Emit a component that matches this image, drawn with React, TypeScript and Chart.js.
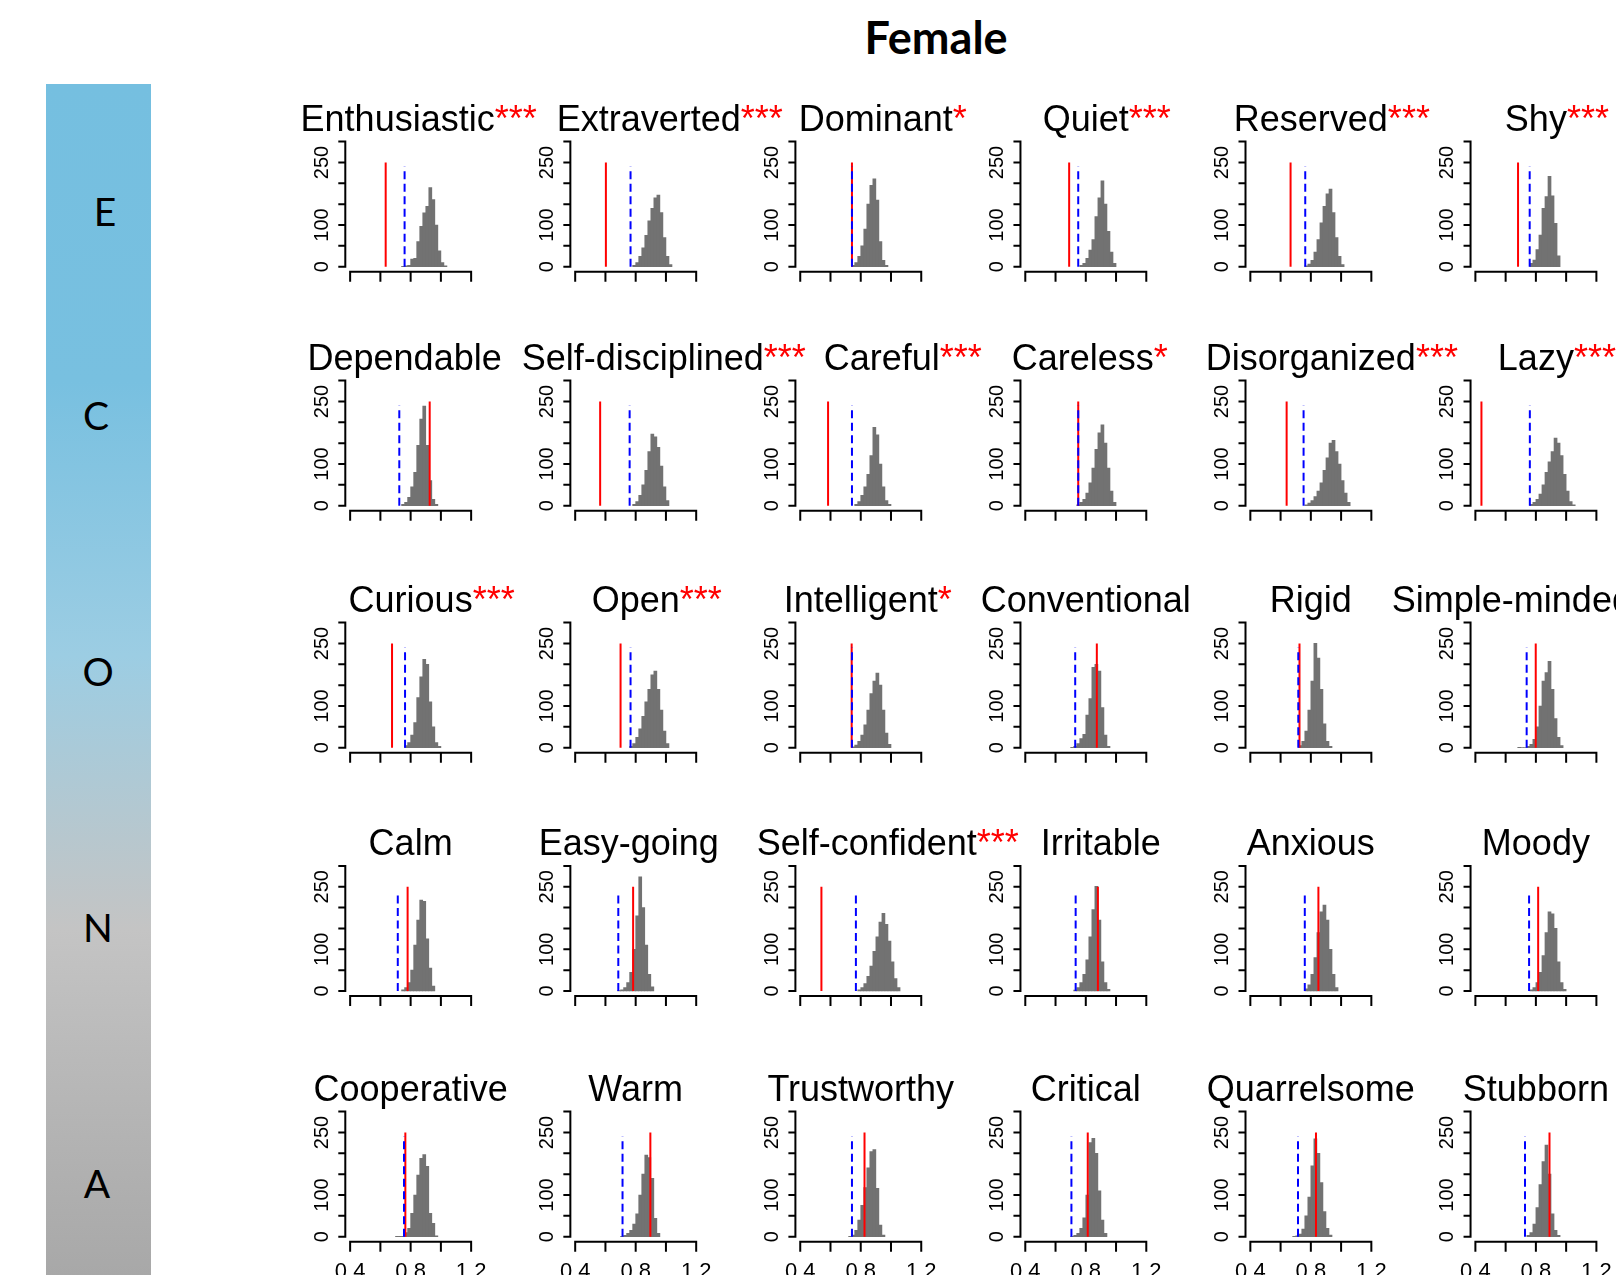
import React, { useEffect, useRef } from "react";
import { Chart, registerables } from "chart.js";
Chart.register(...registerables);

// ---------------- data ----------------
const factorLetters = ["E", "C", "O", "N", "A"];

const traitNames = [
  "Enthusiastic", "Extraverted", "Dominant", "Quiet", "Reserved", "Shy",
  "Dependable", "Self-disciplined", "Careful", "Careless", "Disorganized", "Lazy",
  "Curious", "Open", "Intelligent", "Conventional", "Rigid", "Simple-minded",
  "Calm", "Easy-going", "Self-confident", "Irritable", "Anxious", "Moody",
  "Cooperative", "Warm", "Trustworthy", "Critical", "Quarrelsome", "Stubborn",
];

const significance = [
  "***", "***", "*", "***", "***", "***",
  "", "***", "***", "*", "***", "***",
  "***", "***", "*", "", "", "",
  "", "", "***", "", "", "",
  "", "", "", "", "", "",
];

// observed value (red solid line)
const observedValue = [
  0.635, 0.603, 0.742, 0.69, 0.666, 0.682,
  0.926, 0.565, 0.584, 0.75, 0.64, 0.44,
  0.677, 0.70, 0.74, 0.873, 0.725, 0.799,
  0.78, 0.783, 0.54, 0.88, 0.85, 0.815,
  0.765, 0.897, 0.825, 0.813, 0.834, 0.89,
];

// reference value (blue dashed line)
const referenceValue = [
  0.76, 0.766, 0.742, 0.75, 0.763, 0.759,
  0.725, 0.76, 0.742, 0.75, 0.752, 0.76,
  0.763, 0.766, 0.742, 0.73, 0.717, 0.739,
  0.715, 0.685, 0.768, 0.733, 0.76, 0.755,
  0.756, 0.713, 0.742, 0.705, 0.715, 0.728,
];

const binWidth = 0.02;

// left edge of first histogram bin
const histStart = [
  0.74, 0.78, 0.74, 0.76, 0.76, 0.76,
  0.74, 0.78, 0.76, 0.74, 0.76, 0.76,
  0.76, 0.76, 0.74, 0.70, 0.72, 0.68,
  0.74, 0.68, 0.78, 0.72, 0.76, 0.76,
  0.70, 0.70, 0.72, 0.70, 0.68, 0.74,
];

// histogram counts per bin
const histCounts = [
  [1, 2, 3, 18, 20, 60, 97, 129, 145, 190, 161, 100, 38, 10, 2],
  [3, 10, 25, 45, 75, 110, 140, 165, 172, 130, 70, 25, 5],
  [3, 10, 25, 50, 90, 150, 195, 211, 160, 60, 15, 3],
  [3, 8, 20, 40, 65, 120, 165, 206, 150, 85, 35, 8],
  [2, 6, 15, 35, 65, 105, 145, 175, 186, 130, 70, 25, 5],
  [8, 16, 41, 76, 140, 168, 217, 170, 104, 26],

  [3, 8, 20, 45, 80, 145, 208, 239, 145, 60, 15, 3],
  [3, 10, 25, 50, 85, 130, 172, 165, 140, 95, 45, 12],
  [3, 10, 25, 45, 75, 120, 188, 170, 100, 45, 12, 3],
  [2, 8, 15, 30, 55, 90, 135, 175, 194, 150, 90, 35, 8],
  [2, 6, 12, 22, 35, 55, 85, 115, 150, 157, 130, 100, 60, 30, 8],
  [3, 8, 15, 28, 50, 80, 105, 130, 162, 150, 120, 75, 35, 10, 2],

  [5, 12, 30, 60, 120, 170, 212, 200, 110, 50, 12, 3],
  [3, 10, 25, 45, 75, 110, 140, 175, 184, 140, 90, 40, 10],
  [2, 6, 15, 30, 55, 90, 130, 160, 179, 150, 90, 35, 8],
  [1, 3, 10, 22, 32, 78, 118, 193, 200, 184, 96, 30, 3],
  [5, 15, 40, 90, 160, 250, 215, 140, 57, 15, 3],
  [1, 0, 0, 3, 8, 20, 50, 100, 160, 180, 207, 140, 70, 25, 5],

  [3, 8, 20, 50, 110, 170, 218, 215, 125, 55, 12],
  [1, 3, 8, 20, 45, 100, 180, 274, 200, 110, 40, 10],
  [3, 8, 18, 35, 60, 95, 130, 165, 186, 160, 120, 70, 30, 8],
  [2, 8, 20, 40, 75, 130, 195, 251, 170, 70, 20, 4],
  [5, 15, 40, 80, 140, 190, 206, 170, 100, 40, 8],
  [3, 8, 20, 45, 85, 140, 190, 185, 150, 70, 20, 4],

  [1, 1, 1, 10, 20, 56, 100, 148, 188, 197, 169, 56, 32, 2],
  [1, 3, 8, 15, 30, 55, 100, 150, 196, 190, 140, 44, 8],
  [1, 4, 15, 40, 75, 118, 165, 204, 209, 116, 28, 4],
  [1, 3, 8, 20, 45, 100, 226, 236, 200, 110, 40, 8],
  [1, 2, 6, 18, 50, 95, 170, 235, 200, 130, 60, 20, 4],
  [3, 10, 30, 70, 125, 180, 220, 150, 55, 15, 3],
];

const xTickValues = [0.4, 0.6, 0.8, 1.0, 1.2];
const xTickLabels = ["0.4", "0.8", "1.2"];
const yTickValues = [0, 50, 100, 150, 200, 250, 300];
const yTickLabels = [0, 100, 250];
const observedLineTop = 250;
const referenceLineTop = 240;

// ---------------- layout (not data) ----------------
const colPlotLeft = [345.3, 570.35, 795.4, 1020.45, 1245.5, 1470.55];
const rowZeroY = [266.7, 505.7, 747.7, 991, 1236.7];
const X_MIN = 0.368, X_MAX = 1.232, Y_MIN = -12, Y_MAX = 312;
const PX_PER_X = 151.25;
const PX_PER_Y = 0.417;
const PLOT_W = (X_MAX - X_MIN) * PX_PER_X;
const PLOT_H = (Y_MAX - Y_MIN) * PX_PER_Y;
const CANVAS_W = 215;
const CANVAS_H = 200;
const titleNudge = [
  -13, 13, 15, 0, 0, 0,
  -6, 7, 21, -3, 0, 0,
  0, 0, 0, 0, 0, -24,
  0, -7, 6, 15, 0, 0,
  0, 0, 0, 0, 0, 0,
];

const FONT = '"Liberation Sans", Arial, Helvetica, sans-serif';

function makeAxisPlugin(showXLabels: boolean) {
  return {
    id: "rStyleAxes",
    afterDraw(chart: any) {
      const { ctx, chartArea } = chart;
      const xs = chart.scales.x;
      const ys = chart.scales.y;
      ctx.save();
      ctx.strokeStyle = "#000";
      ctx.lineWidth = 2;
      ctx.lineCap = "butt";
      // y axis
      const ax = chartArea.left;
      ctx.beginPath();
      ctx.moveTo(ax, ys.getPixelForValue(yTickValues[0]) + 1);
      ctx.lineTo(ax, ys.getPixelForValue(yTickValues[yTickValues.length - 1]) - 1);
      for (const v of yTickValues) {
        const py = ys.getPixelForValue(v);
        ctx.moveTo(ax, py);
        ctx.lineTo(ax - 7, py);
      }
      ctx.stroke();
      ctx.fillStyle = "#000";
      ctx.font = `20px ${FONT}`;
      ctx.textAlign = "center";
      ctx.textBaseline = "middle";
      for (const v of yTickLabels) {
        ctx.save();
        ctx.translate(ax - 24, ys.getPixelForValue(v));
        ctx.rotate(-Math.PI / 2);
        ctx.fillText(String(v), 0, 1);
        ctx.restore();
      }
      // x axis
      const ay = chartArea.bottom;
      ctx.beginPath();
      ctx.moveTo(xs.getPixelForValue(xTickValues[0]) - 1, ay);
      ctx.lineTo(xs.getPixelForValue(xTickValues[xTickValues.length - 1]) + 1, ay);
      for (const v of xTickValues) {
        const px = xs.getPixelForValue(v);
        ctx.moveTo(px, ay);
        ctx.lineTo(px, ay + 10);
      }
      ctx.stroke();
      if (showXLabels) {
        ctx.font = `22px ${FONT}`;
        ctx.textBaseline = "top";
        for (const t of xTickLabels) {
          ctx.fillText(t, xs.getPixelForValue(parseFloat(t)), ay + 19);
        }
      }
      ctx.restore();
    },
  };
}

function Panel({ idx }: { idx: number }) {
  const ref = useRef<HTMLCanvasElement>(null);
  const r = Math.floor(idx / 6);
  const c = idx % 6;
  const plotLeft = colPlotLeft[c];
  const plotTop = rowZeroY[r] - Y_MAX * PX_PER_Y;
  const canvasLeft = Math.round(plotLeft - 60);
  const canvasTop = Math.round(plotTop - 10);
  const padLeft = plotLeft - canvasLeft;
  const padTop = plotTop - canvasTop;

  useEffect(() => {
    const bins = histCounts[idx].map((n, i) => ({
      x: histStart[idx] + binWidth * (i + 0.5),
      y: n,
    }));
    const chart = new Chart(ref.current as HTMLCanvasElement, {
      type: "bar",
      data: {
        datasets: [
          {
            type: "line",
            data: [
              { x: referenceValue[idx], y: 0 },
              { x: referenceValue[idx], y: referenceLineTop },
            ],
            borderColor: "#0000ff",
            borderWidth: 2,
            borderDash: [8, 4.5],
            pointRadius: 0,
            fill: false,
            order: 0,
          } as any,
          {
            type: "line",
            data: [
              { x: observedValue[idx], y: 0 },
              { x: observedValue[idx], y: observedLineTop },
            ],
            borderColor: "#ff0000",
            borderWidth: 2,
            pointRadius: 0,
            fill: false,
            order: 1,
          } as any,
          {
            type: "bar",
            data: bins,
            backgroundColor: "#727272",
            borderWidth: 0,
            barPercentage: 1,
            categoryPercentage: 1,
            order: 2,
          } as any,
        ],
      },
      options: {
        animation: false,
        responsive: false,
        events: [],
        layout: {
          autoPadding: false,
          padding: {
            left: padLeft,
            top: padTop,
            right: CANVAS_W - padLeft - PLOT_W,
            bottom: CANVAS_H - padTop - PLOT_H,
          },
        },
        plugins: {
          legend: { display: false },
          tooltip: { enabled: false },
          title: { display: false },
        },
        scales: {
          x: {
            type: "linear",
            min: X_MIN,
            max: X_MAX,
            offset: false,
            grid: { offset: false },
            display: false,
            afterBuildTicks: (axis: any) => {
              axis.ticks = xTickValues.map((v) => ({ value: v }));
            },
          },
          y: {
            type: "linear",
            min: Y_MIN,
            max: Y_MAX,
            display: false,
            afterBuildTicks: (axis: any) => {
              axis.ticks = yTickValues.map((v) => ({ value: v }));
            },
          },
        },
      } as any,
      plugins: [makeAxisPlugin(r === 4)],
    });
    return () => chart.destroy();
  }, [idx]);

  const titleBaseline = rowZeroY[r] - 135.5;
  const titleCenter = plotLeft + PLOT_W / 2 + titleNudge[idx];

  return (
    <>
      <canvas
        ref={ref}
        width={CANVAS_W}
        height={CANVAS_H}
        style={{
          position: "absolute",
          left: canvasLeft,
          top: canvasTop,
          width: CANVAS_W,
          height: CANVAS_H,
        }}
      />
      <div
        style={{
          position: "absolute",
          left: titleCenter,
          top: titleBaseline - 30.5,
          transform: "translateX(-50%)",
          font: `36px ${FONT}`,
          lineHeight: "36px",
          whiteSpace: "nowrap",
          color: "#000",
        }}
      >
        {traitNames[idx]}
        {significance[idx] ? (
          <span style={{ position: "absolute", left: "100%", top: 0, color: "#ff0000" }}>
            {significance[idx]}
          </span>
        ) : null}
      </div>
    </>
  );
}

const letterPos = [
  [105, 211],
  [96, 415],
  [98, 671],
  [98, 927],
  [97, 1183],
];

export default function App() {
  useEffect(() => {
    document.body.style.margin = "0";
    document.body.style.overflow = "hidden";
    document.documentElement.style.overflow = "hidden";
  }, []);
  return (
    <div
      style={{
        position: "fixed",
        left: 0,
        top: 0,
        width: 1616,
        height: 1275,
        overflow: "hidden",
        background: "#ffffff",
      }}
    >
      <div
        style={{
          position: "absolute",
          left: 936,
          top: 55 - 0.887 * 45,
          transform: "translateX(-50%)",
          font: `bold 45px Lato, "Open Sans", sans-serif`,
          lineHeight: "45px",
          color: "#000",
          whiteSpace: "nowrap",
        }}
      >
        Female
      </div>
      <div
        style={{
          position: "absolute",
          left: 46,
          top: 84,
          width: 105,
          height: 1275 - 84,
          background:
            "linear-gradient(to bottom, #75bfe0 0%, #78c0e0 25%, #9ccde3 48%, #b3c8d1 61%, #c4c4c4 71%, #b9b9b9 82%, #a8a8a8 100%)",
        }}
      />
      {factorLetters.map((l, i) => (
        <div
          key={l}
          style={{
            position: "absolute",
            left: letterPos[i][0],
            top: letterPos[i][1],
            transform: "translate(-50%, -50%)",
            font: `39px Lato, "Open Sans", sans-serif`,
            lineHeight: "39px",
            color: "#000",
          }}
        >
          {l}
        </div>
      ))}
      {traitNames.map((_, i) => (
        <Panel key={i} idx={i} />
      ))}
    </div>
  );
}
